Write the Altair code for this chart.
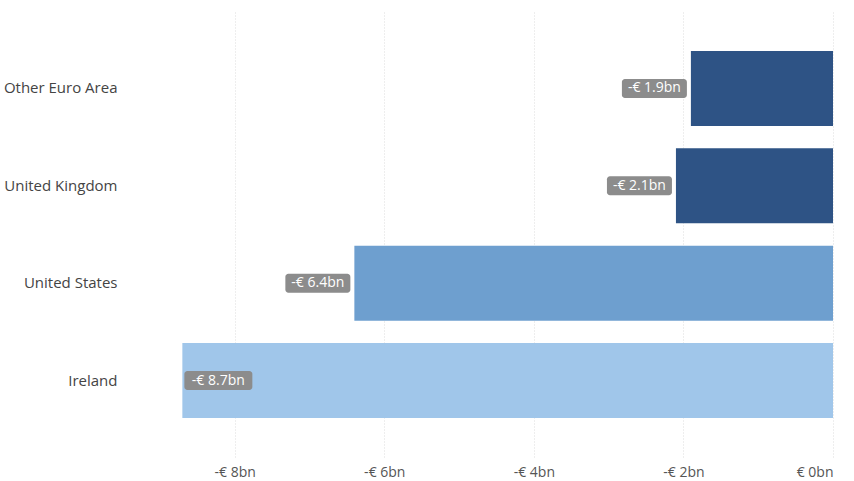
import altair as alt
import pandas as pd

countries = ["Other Euro Area", "United Kingdom", "United States", "Ireland"]
values = [-1.9, -2.1, -6.4, -8.7]
colors = ["#2E5385", "#2E5385", "#6E9FCF", "#A0C6EA"]
tick_values = [-8, -6, -4, -2, 0]

df = pd.DataFrame({"country": countries, "value": values, "color": colors})

FONT = "Open Sans"

y_enc = alt.Y("country:N", sort=countries, title=None,
              scale=alt.Scale(paddingInner=0.23, paddingOuter=0.4),
              axis=alt.Axis(ticks=False, domain=False, labelPadding=13,
                            labelFontSize=15, labelColor="#444444",
                            labelFont=FONT))
x_scale = alt.Scale(domain=[-9.4, 0], nice=False)

bars = alt.Chart(df).mark_bar().encode(
    x=alt.X("value:Q", scale=x_scale, title=None,
            axis=alt.Axis(values=tick_values, ticks=False, domain=False,
                          grid=True, gridColor="#dcdcdc", gridDash=[1, 2],
                          labelPadding=8, labelFontSize=14,
                          labelColor="#555555", labelFont=FONT,
                          labelExpr="datum.value < 0 ? '-€ ' + abs(datum.value) + 'bn' : '€ 0bn'")),
    x2=alt.datum(0),
    y=y_enc,
    color=alt.Color("color:N", scale=None),
)

base = alt.Chart(df).transform_calculate(
    label="'-€ ' + format(abs(datum.value), '.1f') + 'bn'"
)

outside = base.transform_filter("datum.value > -8")
inside = base.transform_filter("datum.value <= -8")

box_out = outside.mark_bar(height=19, cornerRadius=3, color="#8c8c8c",
                           xOffset=-69, x2Offset=-4).encode(
    x=alt.X("value:Q", scale=x_scale),
    x2=alt.X2("value:Q"),
    y=alt.Y("country:N", sort=countries),
)
text_out = outside.mark_text(align="center", baseline="middle", dx=-36.5,
                             color="white", fontSize=14, font=FONT).encode(
    x=alt.X("value:Q", scale=x_scale),
    y=alt.Y("country:N", sort=countries),
    text="label:N",
)
box_in = inside.mark_bar(height=19, cornerRadius=3, color="#8c8c8c",
                         xOffset=2, x2Offset=70).encode(
    x=alt.X("value:Q", scale=x_scale),
    x2=alt.X2("value:Q"),
    y=alt.Y("country:N", sort=countries),
)
text_in = inside.mark_text(align="center", baseline="middle", dx=36,
                           color="white", fontSize=14, font=FONT).encode(
    x=alt.X("value:Q", scale=x_scale),
    y=alt.Y("country:N", sort=countries),
    text="label:N",
)

chart = alt.layer(bars, box_out, text_out, box_in, text_in).properties(
    width=703, height=445,
    autosize=alt.AutoSizeParams(type="none"),
    padding={"left": 130, "top": 12, "right": 21, "bottom": 24},
).configure(background="white").configure_view(stroke=None, strokeWidth=0)

chart.save("out.html", embed_options={"renderer": "svg", "actions": False})
